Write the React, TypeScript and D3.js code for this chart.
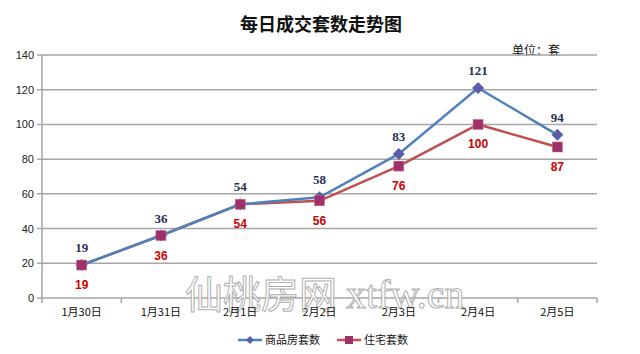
import React from "react";
import * as d3 from "d3";

const categories = ["1月30日", "1月31日", "2月1日", "2月2日", "2月3日", "2月4日", "2月5日"];
const commercial = [19, 36, 54, 58, 83, 121, 94];
const residential = [19, 36, 54, 56, 76, 100, 87];
const yTicks = [0, 20, 40, 60, 80, 100, 120, 140];
const seriesNames = ["商品房套数", "住宅套数"];

const W = 640, H = 354;
const left = 42, right = 597, top = 55, bottom = 298;
const cjk = "'Noto Sans CJK SC', sans-serif";

export default function App() {
  const x = d3.scaleBand<string>().domain(categories).range([left, right]);
  const y = d3.scaleLinear().domain([0, 140]).range([bottom, top]);
  const cx = (c: string) => (x(c) as number) + x.bandwidth() / 2;
  const line = d3.line<number>().x((_, i) => cx(categories[i])).y((d) => y(d));
  const bounds = [...categories.map((c) => x(c) as number), right];

  return (
    <div style={{ margin: -8 }}>
      <svg width={W} height={H} style={{ display: "block" }}>
        <rect x={0.5} y={0.5} width={W - 1} height={H - 1} fill="#fff" stroke="#9a9a9a" />
        <text x={321} y={31} textAnchor="middle" fontFamily={cjk} fontWeight="bold" fontSize={18} fill="#111">每日成交套数走势图</text>
        <text x={512} y={55} fontFamily={cjk} fontSize={12} fill="#111">单位：套</text>
        {yTicks.map((t) => (
          <g key={t}>
            <line x1={left - 5} x2={right} y1={y(t)} y2={y(t)} stroke="#a6a6a6" strokeWidth={1.5} />
            <text x={34} y={y(t) + 4} textAnchor="end" fontFamily="'Liberation Sans', Arial" fontSize={11} fill="#222">{t}</text>
          </g>
        ))}
        <line x1={left} x2={left} y1={top} y2={bottom} stroke="#a6a6a6" strokeWidth={1.5} />
        {bounds.map((b, i) => (
          <line key={i} x1={b} x2={b} y1={bottom} y2={bottom + 5} stroke="#a6a6a6" strokeWidth={1.5} />
        ))}
        <text x={185} y={308} fill="#fff" stroke="#a8a8a8" strokeWidth={1} opacity={0.9}>
          <tspan fontFamily={cjk} fontSize={38}>仙桃房网</tspan>
          <tspan dx={9} fontFamily="'Liberation Serif', serif" fontSize={40}>xtfw.cn</tspan>
        </text>
        {categories.map((c) => (
          <text key={c} x={cx(c)} y={316} textAnchor="middle" fontFamily={cjk} fontSize={11} fill="#111">{c}</text>
        ))}
        <path d={line(residential) || ""} fill="none" stroke="#c0504d" strokeWidth={2.5} />
        <path d={line(commercial) || ""} fill="none" stroke="#4f81bd" strokeWidth={2.5} />
        {commercial.map((v, i) => (
          <path key={"d" + i} transform={`translate(${cx(categories[i])},${y(v)})`} d="M0,-6L6,0L0,6L-6,0Z" fill="#5b5ea6" />
        ))}
        {residential.map((v, i) => (
          <rect key={"s" + i} x={cx(categories[i]) - 5} y={y(v) - 5} width={10} height={10} fill="#a0306a" stroke="#c07090" strokeWidth={0.5} />
        ))}
        {commercial.map((v, i) => (
          <text key={"cl" + i} x={cx(categories[i])} y={y(v) - 13} textAnchor="middle" fontFamily="'Liberation Serif', serif" fontWeight="bold" fontSize={13} fill="#1f3055">{v}</text>
        ))}
        {residential.map((v, i) => (
          <text key={"rl" + i} x={cx(categories[i])} y={y(v) + 24} textAnchor="middle" fontFamily="'Liberation Sans', Arial" fontWeight="bold" fontSize={12} fill="#d00000">{v}</text>
        ))}
        <g>
          <line x1={238} x2={262} y1={340} y2={340} stroke="#4f81bd" strokeWidth={2.5} />
          <path transform="translate(250,340)" d="M0,-4L4,0L0,4L-4,0Z" fill="#5b5ea6" />
          <text x={265} y={344} fontFamily={cjk} fontSize={11} fill="#111">{seriesNames[0]}</text>
          <line x1={337} x2={361} y1={340} y2={340} stroke="#c0504d" strokeWidth={2.5} />
          <rect x={345} y={336} width={8} height={8} fill="#a0306a" />
          <text x={364} y={344} fontFamily={cjk} fontSize={11} fill="#111">{seriesNames[1]}</text>
        </g>
      </svg>
    </div>
  );
}
